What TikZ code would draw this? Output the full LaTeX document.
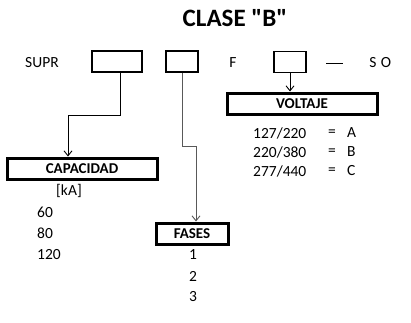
\documentclass[tikz,border=0pt]{standalone}
\usepackage{fontspec}
\setmainfont{Carlito}[Ligatures=TeXOff]
\usetikzlibrary{arrows.meta}
\begin{document}
\begin{tikzpicture}[x=1pt,y=-1pt,
  slot/.style={draw,line width=1.6pt,minimum width=#1pt,minimum height=21pt,inner sep=0pt},
  head/.style={draw,line width=3pt,inner sep=0pt,minimum height=21pt,font=\fontsize{15}{17}\selectfont\bfseries},
  txt/.style={font=\fontsize{15.5}{17}\selectfont,inner sep=0pt},
  conn/.style={line width=0.9pt,-{Straight Barb[length=5pt,width=8pt]}}]
\useasboundingbox (0,0) rectangle (411,322);
\node[font=\fontsize{25}{28}\selectfont\bfseries] (title) at (235,18) {CLASE "B"};
\node[txt,anchor=west] (supr) at (25,63) {SUPR};
\node[slot=50] (b1) at (117,61.5) {};
\node[slot=32] (b2) at (182,61.5) {};
\node[txt] (f) at (233,63) {F};
\node[slot=32] (b3) at (290,62) {};
\coordinate (d1) at (326,63);
\coordinate (d2) at (343,63);
\draw[line width=0.6pt] (d1) -- (d2);
\node[txt] (s) at (373,63) {S};
\node[txt] (o) at (386,63) {O};
\node[head,minimum width=150pt] (cap) at (82,168.5) {CAPACIDAD};
\node[head,minimum width=72pt] (fas) at (192,233.5) {FASES};
\node[head,minimum width=150pt] (vol) at (302,103.5) {VOLTAJE};
\draw[conn] (b1.south -| 120,0) |- (68,115) -- (cap.north -| 68,0);
\draw[conn,draw=gray!70!black] (b2.south) |- (196,146) -- (fas.north -| 196,0);
\draw[conn] (b3.south) -- (vol.north -| b3.south);
\node[txt] (ka) at (69,191) {[kA]};
\node[txt,anchor=west] (c1) at (37,212) {60};
\node[txt,anchor=west] (c2) at (37,233) {80};
\node[txt,anchor=west] (c3) at (37,255) {120};
\node[txt] (f1) at (193,255) {1};
\node[txt] (f2) at (193,276) {2};
\node[txt] (f3) at (193,297) {3};
\node[txt,anchor=west] (v1) at (253,133) {127/220};
\node[txt,anchor=west] (v2) at (253,152) {220/380};
\node[txt,anchor=west] (v3) at (253,171) {277/440};
\node[txt] (e1) at (332,133) {=};
\node[txt] (e2) at (332,152) {=};
\node[txt] (e3) at (332,171) {=};
\node[txt,anchor=west] (l1) at (347,133) {A};
\node[txt,anchor=west] (l2) at (347,152) {B};
\node[txt,anchor=west] (l3) at (347,171) {C};
\end{tikzpicture}
\end{document}
